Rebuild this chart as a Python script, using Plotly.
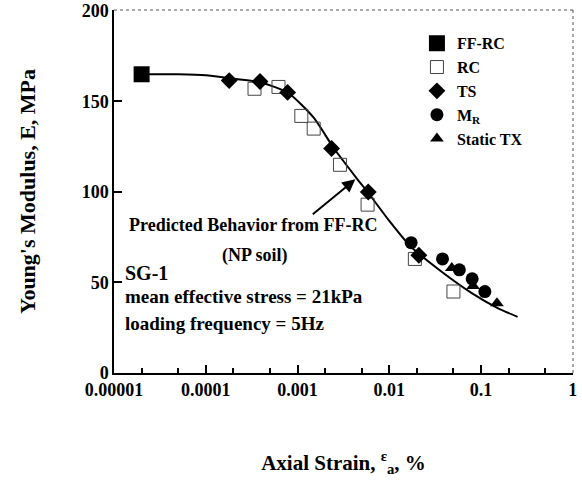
import plotly.graph_objects as go

# data (strain in %, modulus in MPa)
ffrc_strain = [2.0e-5]
ffrc_E = [165]

rc_strain = [3.4e-4, 6.2e-4, 1.1e-3, 1.5e-3, 2.9e-3, 5.8e-3, 0.019, 0.050]
rc_E = [157, 158, 142, 135, 115, 93, 63, 45]

ts_strain = [1.8e-4, 3.9e-4, 7.8e-4, 2.35e-3, 5.9e-3, 0.021]
ts_E = [161.5, 161, 155, 124, 100, 65]

mr_strain = [0.0173, 0.038, 0.058, 0.080, 0.110]
mr_E = [72, 63, 57, 52, 45]

tx_strain = [0.048, 0.082, 0.149]
tx_E = [58, 48, 38.5]

curve_strain = [2.0e-5, 5e-5, 1e-4, 2e-4, 4e-4, 8e-4, 1.5e-3, 2.5e-3, 4.5e-3,
                6e-3, 0.01, 0.017, 0.036, 0.08, 0.15, 0.25]
curve_E = [165, 165, 164.5, 162.5, 160.5, 154.5, 141, 124, 107,
           99, 84, 70, 56.5, 44, 36, 31]

x_ticks = [1e-5, 1e-4, 1e-3, 1e-2, 1e-1, 1]
x_labels = ['0.00001', '0.0001', '0.001', '0.01', '0.1', '1']
y_ticks = [0, 50, 100, 150, 200]

FONT = "Liberation Serif, Times New Roman, serif"

fig = go.Figure()

fig.add_trace(go.Scatter(x=curve_strain, y=curve_E, mode='lines',
                         line=dict(color='black', width=2, shape='spline', smoothing=0.6),
                         showlegend=False, hoverinfo='skip'))
fig.add_trace(go.Scatter(x=ffrc_strain, y=ffrc_E, mode='markers', name='FF-RC',
                         marker=dict(symbol='square', size=16, color='black')))
fig.add_trace(go.Scatter(x=rc_strain, y=rc_E, mode='markers', name='RC',
                         marker=dict(symbol='square-open', size=13, color='#444',
                                     line=dict(width=1))))
fig.add_trace(go.Scatter(x=ts_strain, y=ts_E, mode='markers', name='TS',
                         marker=dict(symbol='diamond', size=13, color='black')))
fig.add_trace(go.Scatter(x=mr_strain, y=mr_E, mode='markers', name='M<sub>R</sub>',
                         marker=dict(symbol='circle', size=13, color='black')))
fig.add_trace(go.Scatter(x=tx_strain, y=tx_E, mode='markers', name='Static TX',
                         marker=dict(symbol='triangle-up', size=12, color='black')))

fig.update_xaxes(type='log', range=[-5, 0.002], showgrid=False, zeroline=False,
                 automargin=False, ticklabeloverflow='allow',
                 showline=True, linecolor='black', linewidth=1.5,
                 tickvals=x_ticks, ticktext=x_labels,
                 ticks='inside', ticklen=8, tickwidth=1.5, tickcolor='black',
                 minor=dict(ticks='inside', ticklen=5, tickcolor='black', showgrid=False),
                 tickfont=dict(family=FONT, size=18, color='black', weight='bold'),
                 title=dict(text='Axial Strain, <sup>ε</sup><sub>a</sub>, %', standoff=56,
                            font=dict(family=FONT, size=21, color='black', weight='bold')))
fig.update_yaxes(range=[0, 200.5], showgrid=False, zeroline=False,
                 automargin=False, ticklabeloverflow='allow',
                 showline=True, linecolor='black', linewidth=1.5,
                 tickvals=y_ticks,
                 ticks='inside', ticklen=8, tickwidth=1.5, tickcolor='black',
                 tickfont=dict(family=FONT, size=18, color='black', weight='bold'),
                 title=dict(text="Young's Modulus, E, MPa", standoff=40,
                            font=dict(family=FONT, size=22, color='black', weight='bold')))

# dotted top and right frame
fig.add_shape(type='line', xref='x domain', yref='y domain', x0=0, x1=1, y0=1, y1=1,
              line=dict(color='#555', width=1, dash='dot'))
fig.add_shape(type='line', xref='x domain', yref='y domain', x0=1, x1=1, y0=0, y1=1,
              line=dict(color='#555', width=1, dash='dot'))

bold = dict(family=FONT, size=19, color='black', weight='bold')
fig.add_annotation(x=-2.37, y=107, ax=-2.85, ay=87, xref='x', yref='y', axref='x', ayref='y',
                   text='', showarrow=True, arrowhead=2, arrowsize=1.3, arrowwidth=2,
                   arrowcolor='black')
fig.add_annotation(x=-3.49, y=82, xref='x', yref='y', showarrow=False,
                   text='Predicted Behavior from FF-RC',
                   font=dict(family=FONT, size=18, color='black', weight='bold'))
fig.add_annotation(x=-3.46, y=65, xref='x', yref='y', showarrow=False,
                   text='(NP soil)', font=dict(family=FONT, size=18, color='black', weight='bold'))
fig.add_annotation(x=-4.9, y=55, xref='x', yref='y', xanchor='left', showarrow=False,
                   text='SG-1', font=dict(family=FONT, size=20, color='black', weight='bold'))
fig.add_annotation(x=-4.9, y=42, xref='x', yref='y', xanchor='left', showarrow=False,
                   text='mean effective stress = 21kPa', font=bold)
fig.add_annotation(x=-4.9, y=27.5, xref='x', yref='y', xanchor='left', showarrow=False,
                   text='loading frequency = 5Hz', font=bold)

fig.update_layout(
    width=582, height=481,
    margin=dict(l=114, r=9, t=10, b=108),
    plot_bgcolor='white', paper_bgcolor='white',
    font=dict(family=FONT, color='black'),
    legend=dict(x=0.66, y=0.955, xanchor='left', yanchor='top',
                bgcolor='rgba(0,0,0,0)', tracegroupgap=0,
                font=dict(family=FONT, size=16, color='black', weight='bold')),
)

# drop the page body's default 8px margin so the figure fills the window
fig.write_html("out.html", config={'displayModeBar': False},
               post_script="document.body.style.margin='0';")
